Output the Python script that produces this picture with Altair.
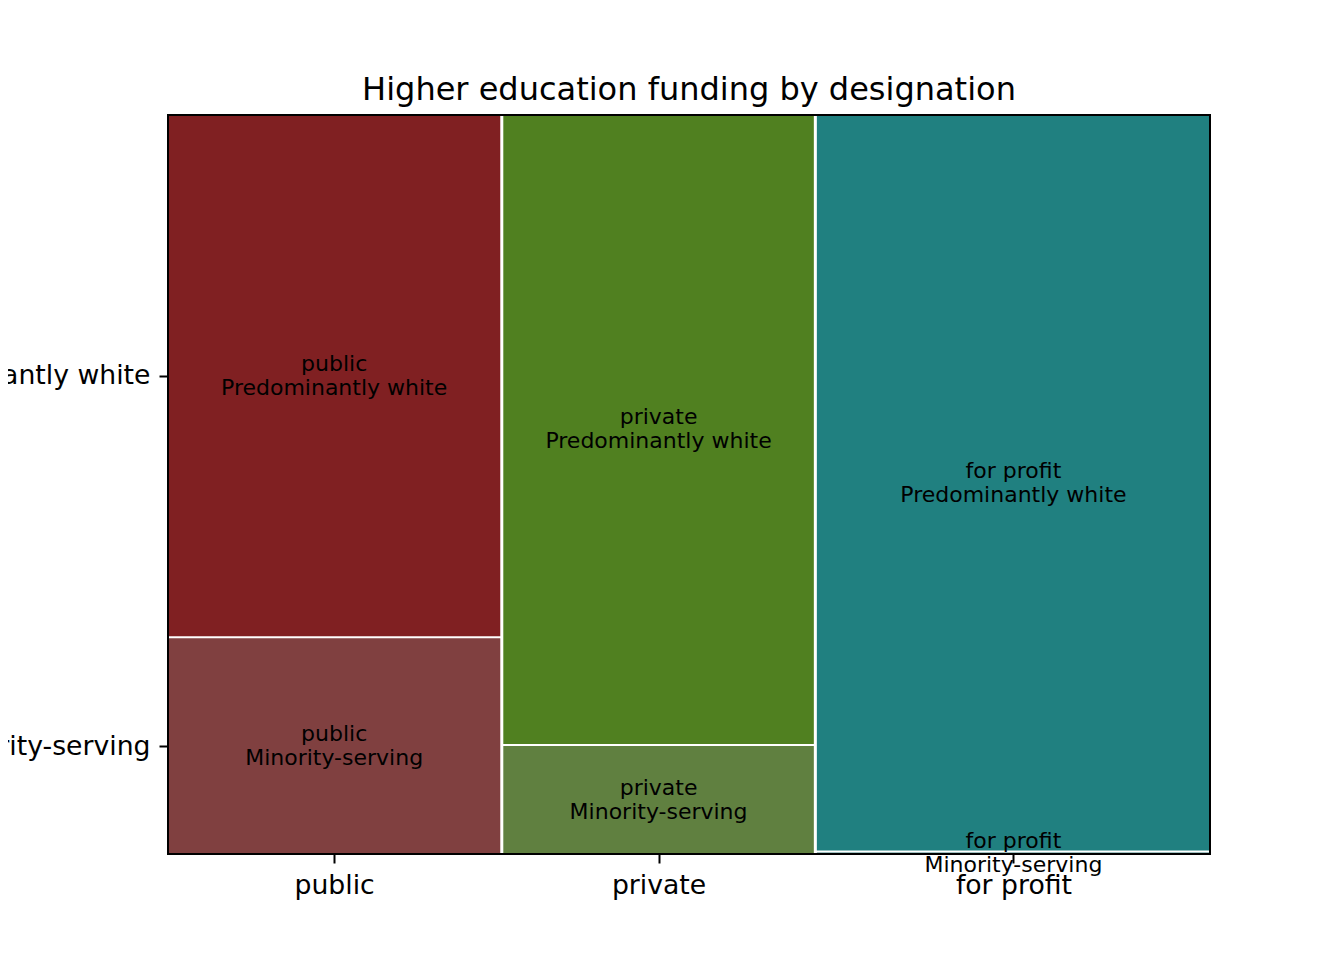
import altair as alt
import pandas as pd

# ---- data ----
categories = ["public", "private", "for profit"]
groups = ["Predominantly white", "Minority-serving"]
white_values = [22.7, 25.6, 37.9]
minority_values = [9.4, 4.4, 0.08]
white_colors = ["#802022", "#508020", "#208080"]
minority_colors = ["#804040", "#608040", "#408080"]

title = "Higher education funding by designation"

# ---- mosaic layout (fractions of the unit square) ----
gap_x = 0.0029
gap_y = 0.0027
totals = [w + m for w, m in zip(white_values, minority_values)]
grand = sum(totals)
avail_x = 1 - gap_x * (len(categories) - 1)

rows = []
x0 = 0.0
centers = []
for i, cat in enumerate(categories):
    w = totals[i] / grand * avail_x
    x1 = x0 + w
    centers.append((x0 + x1) / 2)
    avail_y = 1 - gap_y
    m_h = minority_values[i] / totals[i] * avail_y
    # minority at bottom, white on top
    rows.append(dict(cat=cat, grp=groups[1], x=x0, x2=x1, y=0.0, y2=m_h,
                     color=minority_colors[i], label=f"{cat}\n{groups[1]}",
                     cx=(x0 + x1) / 2, cy=m_h / 2))
    rows.append(dict(cat=cat, grp=groups[0], x=x0, x2=x1, y=m_h + gap_y, y2=1.0,
                     color=white_colors[i], label=f"{cat}\n{groups[0]}",
                     cx=(x0 + x1) / 2, cy=(m_h + gap_y + 1.0) / 2))
    x0 = x1 + gap_x

df = pd.DataFrame(rows)

# y ticks at the centres of the first column's cells
first = df[df["cat"] == categories[0]]
y_white = float(first[first["grp"] == groups[0]]["cy"].iloc[0])
y_min = float(first[first["grp"] == groups[1]]["cy"].iloc[0])

x_label_expr = (
    f"datum.value < {(centers[0] + centers[1]) / 2} ? '{categories[0]}' : "
    f"datum.value < {(centers[1] + centers[2]) / 2} ? '{categories[1]}' : '{categories[2]}'"
)
y_label_expr = f"datum.value > {(y_white + y_min) / 2} ? '{groups[0]}' : '{groups[1]}'"

font = "DejaVu Sans"
W, H = 1042, 739

axis_common = dict(
    domain=False, grid=False, ticks=True, tickColor="black", tickWidth=2,
    tickSize=9, labelPadding=9, labelFont=font, labelFontSize=26.7,
    labelColor="black", labelFlush=False, labelBound=False, labelOverlap=False,
    labelLimit=0, title=None,
)

xscale = alt.Scale(domain=[0, 1], nice=False, zero=False)
yscale = alt.Scale(domain=[0, 1], nice=False, zero=False)

rects = alt.Chart(df).mark_rect(strokeWidth=0).encode(
    x=alt.X("x:Q", scale=xscale,
            axis=alt.Axis(values=centers, labelExpr=x_label_expr, **axis_common)),
    x2="x2:Q",
    y=alt.Y("y:Q", scale=yscale,
            axis=alt.Axis(values=[y_min, y_white], labelExpr=y_label_expr, **axis_common)),
    y2="y2:Q",
    color=alt.Color("color:N", scale=None),
)

frame = alt.Chart(pd.DataFrame({"f": [0]})).mark_rect(
    fill=None, fillOpacity=0, stroke="black", strokeWidth=2
).encode(
    x=alt.value(0), x2=alt.value(W), y=alt.value(0), y2=alt.value(H),
)

texts = alt.Chart(df).mark_text(
    font=font, fontSize=22, color="black", lineBreak="\n", lineHeight=24,
    align="center", baseline="middle", dy=-12,
).encode(
    x=alt.X("cx:Q", scale=xscale),
    y=alt.Y("cy:Q", scale=yscale),
    text="label:N",
)

chart = (
    alt.layer(rects, frame, texts)
    .properties(
        width=W,
        height=H,
        title=alt.TitleParams(title, font=font, fontSize=32, fontWeight="normal",
                              color="black", anchor="middle", offset=7),
        autosize=alt.AutoSizeParams(type="none"),
        padding={"left": 160, "top": 107, "right": 100, "bottom": 50},
    )
    .configure_view(stroke=None)
    .configure(background="white")
)

chart.save("out.html", embed_options={"renderer": "svg", "actions": False})
